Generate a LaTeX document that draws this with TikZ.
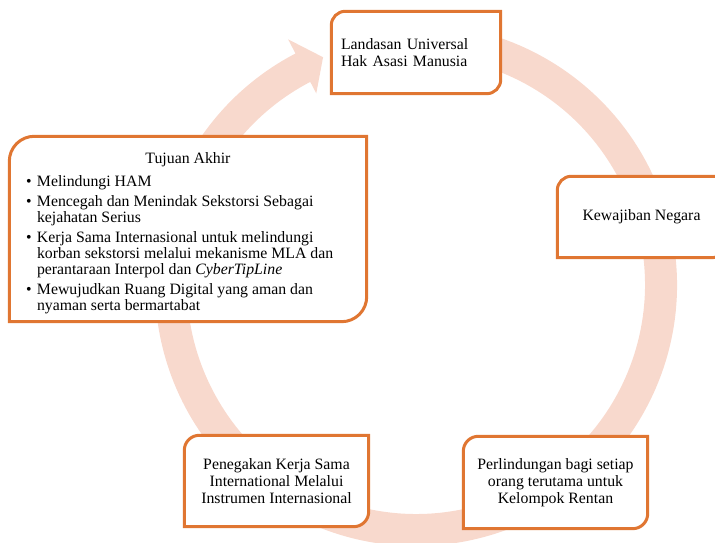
\documentclass[tikz,border=0pt]{standalone}
\usepackage{fontspec}
\setmainfont{Liberation Serif}
\definecolor{boxorange}{HTML}{E07632}
\definecolor{ringpink}{HTML}{F8D9CD}
\pgfdeclarelayer{ringlayer}
\pgfdeclarelayer{boxlayer}
\pgfsetlayers{ringlayer,boxlayer,main}
\tikzset{
  stepbox/.style={inner sep=0pt, align=center, text=black,
    font=\fontsize{15.8}{17}\selectfont},
  boxline/.style={draw=boxorange, line width=3pt, fill=white},
}
\newcommand\rdbox[2]{%
  \path[boxline] (#1.south west) -- ([yshift=-#2]#1.north west)
    arc[start angle=180,end angle=90,radius=#2] -- (#1.north east)
    -- ([yshift=#2]#1.south east)
    arc[start angle=0,end angle=-90,radius=#2] -- cycle;}
\begin{document}
\begin{tikzpicture}[x=1pt,y=1pt]
\useasboundingbox (0,0) rectangle (715,543);

\node[stepbox, minimum width=169pt, minimum height=82pt, text width=150pt, align=left]
  (top) at (416,490.5) {Landasan Universal\\Hak Asasi Manusia};
\node[stepbox, minimum width=168pt, minimum height=81pt]
  (kew) at (641.5,326) {Kewajiban Negara};
\node[stepbox, minimum width=184pt, minimum height=92pt]
  (perl) at (555.5,60.5) {Perlindungan bagi setiap\\orang terutama untuk\\Kelompok Rentan};
\node[stepbox, minimum width=184pt, minimum height=91pt]
  (peng) at (276.5,62) {Penegakan Kerja Sama\\International Melalui\\Instrumen Internasional};
\node[stepbox, minimum width=357pt, minimum height=185pt, font=\fontsize{15.8}{16.3}\selectfont]
  (tuj) at (188,314) {\parbox{324pt}{\vspace*{10pt}\centering Tujuan Akhir\par\vspace{7pt}\raggedright\noindent
  \begin{tabular}[t]{@{}p{11pt}@{}l@{}}
  • & Melindungi HAM\\[3.5pt]
  • & Mencegah dan Menindak Sekstorsi Sebagai\\
    & kejahatan Serius\\[3.5pt]
  • & Kerja Sama Internasional untuk melindungi\\
    & korban sekstorsi melalui mekanisme MLA dan\\
    & perantaraan Interpol dan \textit{CyberTipLine}\\[3.5pt]
  • & Mewujudkan Ruang Digital yang aman dan\\
    & nyaman serta bermartabat
  \end{tabular}}};

\begin{pgfonlayer}{boxlayer}
  \rdbox{top}{14pt}
  \rdbox{kew}{14pt}
  \rdbox{perl}{15pt}
  \rdbox{peng}{15pt}
  \rdbox{tuj}{25pt}
\end{pgfonlayer}

\begin{pgfonlayer}{ringlayer}
  \fill[ringpink, shift={(416,258)}]
    (100:261) arc[start angle=100,end angle=-242.5,radius=261pt]
    -- (-242.5:277) -- (-247.8:246) -- (-242.5:216) -- (-242.5:229)
    arc[start angle=-242.5,end angle=100,radius=229pt] -- cycle;
\end{pgfonlayer}
\end{tikzpicture}
\end{document}
